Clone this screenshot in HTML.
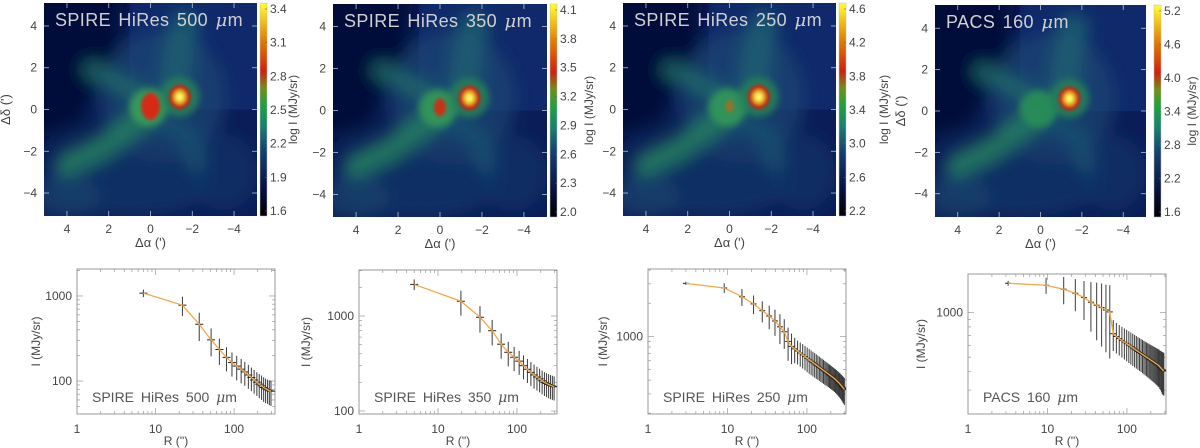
<!DOCTYPE html>
<html><head><meta charset="utf-8"><style>
html,body{margin:0;padding:0;background:#fff;}
svg{display:block;font-family:"Liberation Sans",sans-serif;}
</style></head><body>
<svg id="fig" width="1200" height="448" viewBox="0 0 1200 448" xmlns="http://www.w3.org/2000/svg">
<defs>
<linearGradient id="cbgrad" x1="0" y1="1" x2="0" y2="0">
<stop offset="0" stop-color="#000000"/><stop offset="0.13" stop-color="#08123f"/>
<stop offset="0.3" stop-color="#153f6e"/><stop offset="0.42" stop-color="#1a8070"/>
<stop offset="0.52" stop-color="#20a040"/><stop offset="0.6" stop-color="#70901a"/>
<stop offset="0.68" stop-color="#d02010"/><stop offset="0.82" stop-color="#e07a00"/>
<stop offset="1" stop-color="#ffff30"/></linearGradient>
<filter id="blurBig" x="-20%" y="-20%" width="140%" height="140%"><feGaussianBlur stdDeviation="8"/></filter>
<filter id="blurMid" x="-50%" y="-50%" width="200%" height="200%"><feGaussianBlur stdDeviation="3.5"/></filter>
<filter id="blurSm" x="-50%" y="-50%" width="200%" height="200%"><feGaussianBlur stdDeviation="1.5"/></filter>
</defs>
</svg>
<script>
// ---------- profile data ----------
const R1=[7,22,36,51,65,80,94,108,123,137,152,166,180,195,209,224,238,252,267,281,295];
const I1=[1080,780,465,305,235,190,165,150,138,128,118,110,103,97,92,88,84,81,79,77,76];
const E1=[110,200,170,110,80,60,52,48,44,40,37,34,32,30,29,28,27,26,25,25,25];
const R2=[5,19.5,34,48.5,63,77.5,92,106.5,121,135.5,150,164.5,179,193.5,208,222.5,237,251.5,266,280.5,295];
const I2=[2150,1430,970,700,505,415,368,335,300,275,255,240,228,218,208,200,195,190,186,183,180];
const E2=[280,420,300,210,150,120,105,95,85,78,72,68,64,61,58,56,55,54,53,52,51];
const R3=[3.0,9.1,15.2,21.3,27.4,33.5,39.6,45.7,51.8,57.9,64.0,70.1,76.2,82.3,88.4,94.5,100.6,106.7,112.8,118.9,125.0,131.1,137.2,143.3,149.4,155.5,161.6,167.7,173.8,179.9,186.0,192.1,198.2,204.3,210.4,216.5,222.6,228.7,234.8,240.9,247.0,253.1,259.2,265.3,271.4,277.5,283.6,289.7,295.8];
const I3=[3030,2750,2290,1970,1710,1530,1380,1220,1100,900,810,770,735,705,680,655,632,612,594,578,563,549,536,524,512,501,491,481,472,463,455,447,439,432,425,418,411,404,397,390,383,376,369,362,355,348,341,335,328];
const E3=[100,280,400,380,370,370,370,370,330,300,250,200,180,175,170,165,160,155,150,146,142,138,134,130,127,124,121,118,115,112,110,108,106,104,102,100,99,98,97,96,95,94,93,92,92,91,91,90,90];
const R4=[3.2,9.6,16.0,22.4,28.8,35.2,41.6,48.0,54.4,60.8,67.2,73.6,80.0,86.4,92.8,99.2,105.6,112.0,118.4,124.8,131.2,137.6,144.0,150.4,156.8,163.2,169.6,176.0,182.4,188.8,195.2,201.6,208.0,214.4,220.8,227.2,233.6,240.0,246.4,252.8,259.2,265.6,272.0,278.4,284.8,291.2];
const I4=[1576,1528,1437,1350,1262,1174,1121,1080,1040,1010,720,690,668,649,632,617,603,590,578,567,557,547,538,530,522,514,507,500,494,488,482,476,471,466,461,456,451,447,442,438,430,425,418,412,408,405];
const E4=[60,190,300,330,370,430,470,490,500,520,170,160,155,152,150,148,146,144,142,140,138,136,134,133,132,131,130,129,128,128,127,127,126,126,125,125,125,125,125,125,125,126,128,130,130,130];
const xTickLabels=["1","10","100"];
const cbLabels1=["1.6","1.9","2.2","2.5","2.8","3.1","3.4"];
const cbLabels2=["2.0","2.3","2.6","2.9","3.2","3.5","3.8","4.1"];
const cbLabels3=["2.2","2.6","3.0","3.4","3.8","4.2","4.6"];
const cbLabels4=["1.6","2.2","2.8","3.4","4.0","4.6","5.2"];
const mapTickLabels=["4","2","0","\u22122","\u22124"];

const svg=document.getElementById('fig');
const NS="http://www.w3.org/2000/svg";
function el(tag,attrs,parent,txt){const e=document.createElementNS(NS,tag);for(const k in attrs)e.setAttribute(k,attrs[k]);if(txt!==undefined)e.textContent=txt;(parent||svg).appendChild(e);return e;}

// ---------- maps ----------
const maps=[
 {x0:44,x1:257,y0:3,y1:216,cb:260,cbl:297,title:"SPIRE HiRes 500 ",labels:cbLabels1,ylab:10,core1:[0.45,0.65,"#d42a18"],halo:"#36a058",name:"500"},
 {x0:333,x1:547,y0:4,y1:217,cb:550,cbl:593,title:"SPIRE HiRes 350 ",labels:cbLabels2,ylab:null,core1:[0.28,0.42,"#c83018"],halo:"#33985a",name:"350"},
 {x0:623,x1:836,y0:3,y1:216,cb:839,cbl:888,title:"SPIRE HiRes 250 ",labels:cbLabels3,ylab:null,core1:[0.18,0.28,"#a86a20"],halo:"#30985a",name:"250"},
 {x0:935,x1:1146,y0:5,y1:217,cb:1154,cbl:1196,title:"PACS 160 ",labels:cbLabels4,ylab:905,core1:null,halo:"#2a8f58",name:"160"}
];
maps.forEach((m,mi)=>{
  const g=el('g',{});
  
  
  const cid='clip'+mi;
  const cp=el('clipPath',{id:cid},g);el('rect',{x:m.x0,y:m.y0,width:m.x1-m.x0,height:m.y1-m.y0},cp);
  const cx=(m.x0+m.x1)/2, cy=(m.y0+m.y1)/2, s=(m.x1-m.x0)/10.2;
  const X=a=>cx-a*s, Y=d=>cy-d*s;
  const img=el('g',{'clip-path':'url(#'+cid+')'},g);
  el('rect',{x:m.x0,y:m.y0,width:m.x1-m.x0,height:m.y1-m.y0,fill:'#0b1d58'},img);
  el('rect',{x:X(1),y:m.y0,width:m.x1-X(1),height:Y(0)-m.y0,fill:'#10296a'},img);
  const bg=el('g',{filter:'url(#blurBig)'},img);
  const pts=(arr)=>arr.map(p=>X(p[0])+','+Y(p[1])).join(' ');
  el('polygon',{points:pts([[6,6],[1.2,6],[1.6,2.2],[2.6,1.2],[3.2,-0.6],[6,-1.6]]),fill:'#05113a'},bg);
  el('ellipse',{cx:X(-0.6),cy:Y(0.6),rx:3.0*s,ry:3.2*s,fill:'#1a4a74',opacity:0.65},bg);
  el('ellipse',{cx:X(1),cy:Y(-3.5),rx:4*s,ry:1.6*s,fill:'#133366',opacity:0.8},bg);
  el('ellipse',{cx:X(-3.5),cy:Y(-3),rx:1.6*s,ry:1.8*s,fill:'#133468',opacity:0.7},bg);
  el('ellipse',{cx:X(4),cy:Y(-4.2),rx:1.6*s,ry:1*s,fill:'#18436c',opacity:0.7},bg);
  el('polyline',{points:pts([[4,-2.6],[2.5,-1.9],[1.2,-1.0],[0,-0.2]]),fill:'none',stroke:'#267f62','stroke-width':1.2*s,'stroke-linecap':'round',opacity:0.85},bg);
  el('polyline',{points:pts([[0,0.4],[1.4,1.2],[2.8,1.9]]),fill:'none',stroke:'#226e6a','stroke-width':0.9*s,'stroke-linecap':'round',opacity:0.8},bg);
  el('polyline',{points:pts([[-1.1,1.0],[-1.3,2.5],[-1.6,4]]),fill:'none',stroke:'#1d6270','stroke-width':1.5*s,'stroke-linecap':'round',opacity:0.8},bg);
  el('polyline',{points:pts([[-0.5,-0.5],[-1.8,-1.2],[-2.2,-2.5]]),fill:'none',stroke:'#1a5270','stroke-width':1.0*s,'stroke-linecap':'round',opacity:0.8},bg);
  const mid=el('g',{filter:'url(#blurMid)'},img);
  el('ellipse',{cx:X(0.1),cy:Y(0.1),rx:0.9*s,ry:0.9*s,fill:m.halo,opacity:0.9},mid);
  el('ellipse',{cx:X(-1.4),cy:Y(0.6),rx:0.95*s,ry:0.95*s,fill:'#247f5a',opacity:0.9},mid);
  const sm=el('g',{filter:'url(#blurSm)'},img);
  if(m.core1){el('ellipse',{cx:X(0),cy:Y(0.15),rx:m.core1[0]*s,ry:m.core1[1]*s,fill:m.core1[2]},sm);}
  el('ellipse',{cx:X(-1.4),cy:Y(0.6),rx:0.52*s,ry:0.58*s,fill:'#c82418'},sm);
  el('ellipse',{cx:X(-1.4),cy:Y(0.6),rx:0.32*s,ry:0.36*s,fill:'#e8b020'},sm);
  el('ellipse',{cx:X(-1.4),cy:Y(0.6),rx:0.16*s,ry:0.18*s,fill:'#ffff70'},sm);
  const tk=el('g',{stroke:'#ffffff','stroke-width':0.8,opacity:0.7},g);
  [4,2,0,-2,-4].forEach(v=>{
    el('line',{x1:X(v),y1:m.y1,x2:X(v),y2:m.y1-5},tk);el('line',{x1:X(v),y1:m.y0,x2:X(v),y2:m.y0+5},tk);
    el('line',{x1:m.x0,y1:Y(v),x2:m.x0+5,y2:Y(v)},tk);el('line',{x1:m.x1,y1:Y(v),x2:m.x1-5,y2:Y(v)},tk);
  });
  const t=el('text',{x:m.x0+11,y:m.y0+23,'font-size':18,fill:'#d0d0d0','letter-spacing':0.4,'word-spacing':2},g,m.title);
  el('tspan',{'font-style':'italic','font-family':'"DejaVu Serif",serif'},t,'\u03bc');
  el('tspan',{},t,'m');
  
  
  [4,2,0,-2,-4].forEach((v,i)=>{
    const a=el('text',{x:X(v),y:m.y1+17,'font-size':12,fill:'#444','text-anchor':'middle'},g,mapTickLabels[i]);
    
    const b=el('text',{x:m.x0-7,y:Y(v)+4,'font-size':12,fill:'#444','text-anchor':'end'},g,mapTickLabels[i]);
    
  });
  const xl=el('text',{x:cx,y:m.y1+31,'font-size':13,fill:'#444','text-anchor':'middle'},g,"\u0394\u03b1 (')");
  
  if(m.ylab){const yl=el('text',{x:m.ylab,y:cy,'font-size':13,fill:'#444','text-anchor':'middle',transform:`rotate(-90 ${m.ylab} ${cy})`},g,"\u0394\u03b4 (')");
    }
  const cb=el('rect',{x:m.cb,y:m.y0,width:7,height:m.y1-m.y0,fill:'url(#cbgrad)',stroke:'#bbb','stroke-width':0.5},g);
  
  const n=m.labels.length;
  m.labels.forEach((l,i)=>{
    const yy=(m.y1-5)-i*((m.y1-m.y0-11)/(n-1));
    const tl=el('text',{x:m.cb+10,y:yy+4,'font-size':12,fill:'#444'},g,l);
    
    el('line',{x1:m.cb+5,y1:yy,x2:m.cb+7,y2:yy,stroke:'#666','stroke-width':0.6},g);
  });
  const cl=el('text',{x:m.cbl,y:cy,'font-size':12,fill:'#444','text-anchor':'middle',transform:`rotate(-90 ${m.cbl} ${cy})`},g,"log I (MJy/sr)");
  
});

// ---------- profiles ----------
const profs=[
 {x0:77,x1:275,y0:269,y1:414,xmax:332,ymin:41,ymax:2075,R:R1,I:I1,E:E1,lab:"SPIRE HiRes 500 ",yl:40,yt:[1000,100],hw:4,name:"500"},
 {x0:359,x1:557,y0:270,y1:414,xmax:321,ymin:93,ymax:3050,R:R2,I:I2,E:E2,lab:"SPIRE HiRes 350 ",yl:310,yt:[1000,100],hw:4,name:"350"},
 {x0:648,x1:846,y0:269,y1:414,xmax:310,ymin:197,ymax:4090,R:R3,I:I3,E:E3,lab:"SPIRE HiRes 250 ",yl:607,yt:[1000],hw:3,name:"250"},
 {x0:968,x1:1166,y0:274,y1:414,xmax:310,ymin:207,ymax:1820,R:R4,I:I4,E:E4,lab:"PACS 160 ",yl:925,yt:[1000],hw:3,name:"160"}
];
profs.forEach(p=>{
  const g=el('g',{});
  
  
  const lx=Math.log10, xs=v=>p.x0+(lx(v)-0)/(lx(p.xmax))*(p.x1-p.x0);
  const ys=v=>p.y1-(lx(v)-lx(p.ymin))/(lx(p.ymax)-lx(p.ymin))*(p.y1-p.y0);
  const fr=el('rect',{x:p.x0,y:p.y0,width:p.x1-p.x0,height:p.y1-p.y0,fill:'none',stroke:'#9a9a9a','stroke-width':1},g);
  
  for(let d=1;d<=100;d*=10){for(let k=1;k<10;k++){const v=d*k;if(v>p.xmax)break;const x=xs(v);const L=k==1?6:3;
    el('line',{x1:x,y1:p.y1,x2:x,y2:p.y1-L,stroke:'#999','stroke-width':0.7},g);el('line',{x1:x,y1:p.y0,x2:x,y2:p.y0+L,stroke:'#999','stroke-width':0.7},g);}}
  [1,10,100].forEach((v,i)=>{const t=el('text',{x:xs(v),y:p.y1+19,'font-size':12,fill:'#444','text-anchor':'middle'},g,xTickLabels[i]);
    });
  for(let d=10;d<=10000;d*=10){for(let k=1;k<10;k++){const v=d*k;if(v<p.ymin||v>p.ymax)continue;const y=ys(v);const L=k==1?6:3;
    el('line',{x1:p.x0,y1:y,x2:p.x0+L,y2:y,stroke:'#999','stroke-width':0.7},g);el('line',{x1:p.x1,y1:y,x2:p.x1-L,y2:y,stroke:'#999','stroke-width':0.7},g);}}
  p.yt.forEach(v=>{const t=el('text',{x:p.x0-5,y:ys(v)+4,'font-size':12,fill:'#444','text-anchor':'end'},g,String(v));
    });
  const xt=el('text',{x:(p.x0+p.x1)/2,y:p.y1+31,'font-size':12,fill:'#444','text-anchor':'middle'},g,"R ('')");
  
  const cyy=(p.y0+p.y1)/2;
  const yt=el('text',{x:p.yl,y:cyy,'font-size':12,fill:'#444','text-anchor':'middle',transform:`rotate(-90 ${p.yl} ${cyy})`},g,"I (MJy/sr)");
  
  const cid='pc'+p.name;const cp=el('clipPath',{id:cid},g);el('rect',{x:p.x0,y:p.y0,width:p.x1-p.x0,height:p.y1-p.y0},cp);
  const dg=el('g',{'clip-path':'url(#'+cid+')'},g);
  p.R.forEach((r,i)=>{
    const x=xs(r),lo=Math.max(p.I[i]-p.E[i],1),hi=p.I[i]+p.E[i];
    const b=el('line',{x1:x,y1:ys(lo),x2:x,y2:ys(hi),stroke:'#3a3a3a','stroke-width':1},dg);
    
    const h=el('line',{x1:x-p.hw,y1:ys(p.I[i]),x2:x+p.hw,y2:ys(p.I[i]),stroke:'#222','stroke-width':1},dg);
    
  });
  const ln=el('polyline',{points:p.R.map((r,i)=>xs(r)+','+ys(p.I[i])).join(' '),fill:'none',stroke:'#f5a848','stroke-width':1.3},dg);
  
  const t=el('text',{x:p.x0+15,y:p.y1-12,'font-size':14,fill:'#555','word-spacing':3},g,p.lab);
  el('tspan',{'font-style':'italic','font-family':'"DejaVu Serif",serif'},t,'\u03bc');
  el('tspan',{},t,'m');
  
});
</script>
</body></html>
